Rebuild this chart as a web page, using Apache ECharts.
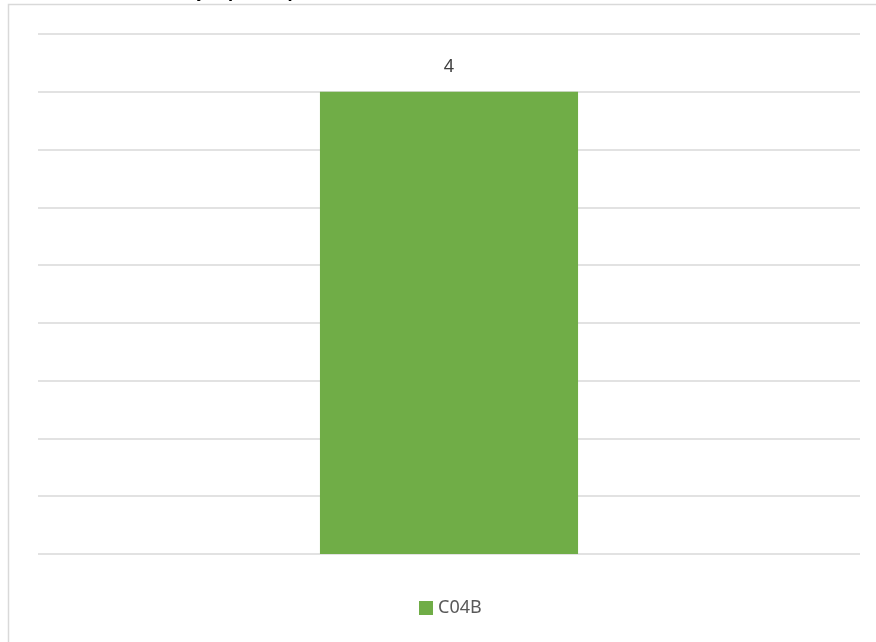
<!DOCTYPE html>
<html>
<head>
<meta charset="utf-8">
<script src="https://cdn.jsdelivr.net/npm/echarts@6/dist/echarts.min.js"></script>
<style>
  html, body { margin: 0; padding: 0; background: #fff; }
  #chart { width: 876px; height: 642px; }
</style>
</head>
<body>
<div id="chart"></div>
<script>
// dados
const titleText = 'Distribuição por Empresa';
const categories = ['C04B'];
const seriesName = 'C04B';
const values = [4];
const yMin = 0;
const yMax = 4.5;
const yStep = 0.5;

const chart = echarts.init(document.getElementById('chart'));
chart.setOption({
  animation: false,
  backgroundColor: '#fff',
  textStyle: { fontFamily: 'Noto Sans' },
  // titulo cortado no topo da imagem
  title: {
    text: titleText,
    left: 121,
    top: -16,
    padding: 0,
    textStyle: { fontSize: 17, fontWeight: 'bold', color: '#000', fontFamily: 'Noto Sans' }
  },
  graphic: [{
    type: 'rect',
    shape: { x: 8.5, y: 4.5, width: 1000, height: 1000 },
    style: { fill: 'none', stroke: '#d9d9d9', lineWidth: 1.5 },
    silent: true,
    z: -1
  }],
  legend: {
    data: [seriesName],
    bottom: 20,
    left: 414,
    itemWidth: 14,
    itemHeight: 14,
    itemGap: 6,
    icon: 'rect',
    textStyle: { fontSize: 18, color: '#595959' }
  },
  grid: { left: 38, right: 16, top: 34, bottom: 88 },
  xAxis: {
    type: 'category',
    data: categories,
    axisLine: { show: false },
    axisTick: { show: false },
    axisLabel: { show: false }
  },
  yAxis: {
    type: 'value',
    min: yMin,
    max: yMax,
    interval: yStep,
    axisLine: { show: false },
    axisTick: { show: false },
    axisLabel: { show: false },
    splitLine: { lineStyle: { color: '#d9d9d9', width: 1.5 } }
  },
  series: [{
    name: seriesName,
    type: 'bar',
    data: values,
    barWidth: '31.4%',
    itemStyle: { color: '#70ad47' },
    label: {
      show: true,
      position: 'top',
      distance: 16,
      fontSize: 18,
      color: '#404040'
    }
  }]
});
</script>
</body>
</html>
